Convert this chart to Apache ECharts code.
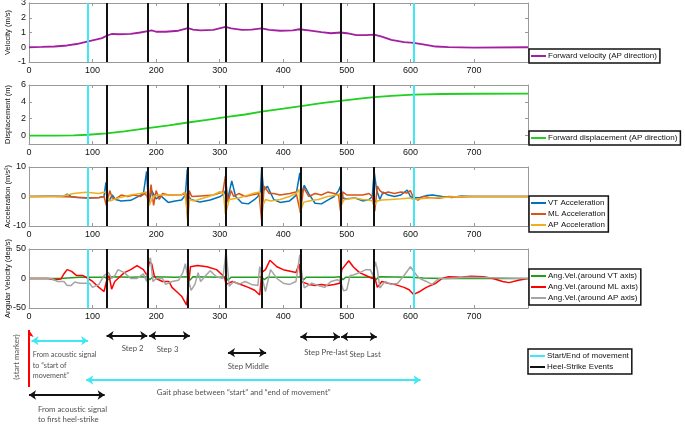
<!DOCTYPE html>
<html>
<head>
<meta charset="utf-8">
<script src="https://cdn.jsdelivr.net/npm/echarts@6/dist/echarts.min.js"></script>
<style>
  html, body { margin: 0; padding: 0; background: #fff; }
  #chart { width: 685px; height: 425px; }
</style>
</head>
<body>
<div id="chart"></div>
<script>
// ---- data (x = sample index) ----
const xMax = 785;
const xTicks = [0, 100, 200, 300, 400, 500, 600, 700];
const heelStrikes = [122, 187, 250, 309, 366, 428, 490, 543];
const moveBounds = [93, 605];

const velocity = [[0,0],[20,0.02],[40,0.05],[60,0.12],[75,0.22],[93,0.4],[105,0.52],[115,0.62],[122,0.78],[130,0.9],[140,0.88],[160,0.9],[175,1.0],[187,1.1],[193,1.15],[200,1.05],[215,1.05],[235,1.12],[250,1.3],[258,1.2],[270,1.15],[290,1.18],[309,1.38],[318,1.28],[335,1.18],[350,1.2],[366,1.28],[378,1.18],[395,1.12],[415,1.15],[425,1.22],[428,1.3],[440,1.15],[460,1.02],[475,0.95],[490,1.0],[500,0.95],[515,0.82],[530,0.82],[543,0.85],[555,0.72],[570,0.5],[590,0.35],[605,0.3],[620,0.2],[640,0.05],[660,0.01],[700,-0.02],[785,0.0]];

const displacement = [[0,0],[40,0],[70,0.03],[93,0.1],[122,0.25],[150,0.5],[187,0.88],[220,1.2],[250,1.55],[280,1.85],[309,2.18],[340,2.5],[366,2.85],[400,3.2],[428,3.5],[460,3.85],[490,4.12],[520,4.38],[543,4.55],[570,4.72],[605,4.85],[650,4.93],[700,4.96],[785,4.97]];

const accVT = [[0,0],[30,0.1],[55,0.1],[60,0.8],[63,1],[66,0],[75,-0.3],[93,-0.5],[110,-0.3],[118,0],[121,4.8],[123,0],[126,-1.5],[131,0.5],[136,-1],[145,-1.5],[160,-1.3],[170,-0.2],[180,1],[185,8.5],[188,-2.5],[193,2],[200,-0.8],[207,0.3],[219,-2],[230,-1.5],[240,-1.2],[246,0.5],[249,9.2],[251,0],[255,-1],[269,-1.9],[285,-1.2],[301,0],[307,1],[309,2],[313,-0.5],[319,5.3],[325,0],[335,-2.2],[345,-2.5],[355,-1],[360,0],[364,1.5],[366,9.5],[369,2],[375,3.5],[385,-1],[395,-2],[410,-1.5],[420,0.4],[426,8],[429,1],[433,3.8],[440,1],[450,-2.3],[460,-2.5],[470,-1.2],[480,0],[487,2],[490,3.5],[494,-0.5],[500,-0.8],[513,-0.5],[525,-1.5],[535,-1],[540,0],[543,8.4],[547,2],[552,-1],[557,1.5],[565,0.5],[575,0],[585,0.5],[595,2.2],[600,0],[605,-0.5],[615,-0.3],[625,0.3],[635,0.5],[650,0],[665,-0.3],[680,0.2],[700,0],[785,0]];

const accML = [[0,0],[40,0],[70,-0.2],[90,-0.4],[110,-0.4],[118,0],[122,-3.2],[125,0],[127,2],[131,-0.5],[135,-1],[145,0.5],[155,0],[165,0.5],[175,0],[182,1],[186,0],[188,-3],[192,4],[196,-3],[200,2],[205,-1],[210,1],[220,0.5],[240,0.6],[247,1],[250,-9.5],[252,2],[256,0],[270,0.2],[290,0.5],[305,1.5],[309,7],[313,-2],[318,2],[322,0],[330,1],[340,0],[350,0.5],[362,1],[366,-8.3],[370,3.5],[378,1],[385,1],[395,0.5],[410,1],[420,1.5],[427,-5.5],[432,3],[440,0],[450,1],[460,0.5],[470,1.5],[480,1],[487,0.5],[490,-5],[494,1.5],[500,0.5],[513,0.5],[525,0.5],[535,1],[540,0],[544,-5],[548,3.5],[552,2],[558,1],[565,1.5],[575,1],[585,1.5],[595,1.2],[600,2],[605,-0.5],[612,-1.2],[620,0],[630,-0.3],[645,-0.6],[660,0],[680,-0.2],[700,0],[785,0]];

const accAP = [[0,0],[50,0],[60,0.5],[70,1],[90,1.4],[110,1],[120,1.5],[121,2],[124,-0.5],[127,-1.5],[140,-0.5],[160,0.5],[175,1],[185,1.5],[187,2],[189,-3],[195,0],[205,0.5],[240,0.6],[245,1.5],[249,-6],[253,-1],[260,-1.5],[275,-0.5],[290,0.5],[300,1.6],[306,1],[309,-6],[315,-1],[330,-0.5],[345,0.5],[355,1.2],[363,1.5],[366,-4],[372,-1],[380,-1.5],[395,-1],[410,0],[420,1],[425,2.4],[427,-5],[432,-2],[440,-1.5],[455,-1],[470,0],[485,0.5],[489,1],[491,-3],[496,-1],[513,-0.5],[525,-1],[535,-1.2],[540,-1.5],[543,-3],[548,-1.5],[555,-1.2],[570,-1],[585,-0.8],[600,-0.5],[605,-1],[615,-0.8],[630,-0.5],[650,-0.3],[680,0],[785,0]];

const gyrVT = [[0,0],[50,0],[60,1],[80,2],[100,2],[120,2],[125,-2],[130,3],[160,2],[186,3],[190,-2],[195,3],[230,2],[249,3],[253,-3],[258,3],[300,2],[309,3],[313,-3],[318,2],[360,2],[366,3],[370,-2],[375,2],[420,2],[428,3],[432,-2],[436,2],[480,2],[490,3],[494,-2],[498,2],[540,2],[543,3],[546,-2],[550,3],[600,2],[620,1],[650,0],[785,0]];

const gyrML = [[0,0],[30,0],[40,-2],[50,-1],[55,8],[60,15],[67,12],[75,5],[85,5],[93,0],[100,-5],[110,-15],[118,-22],[121,-20],[123,0],[126,5],[130,-18],[135,-5],[140,0],[150,10],[160,15],[170,22],[180,15],[186,5],[189,28],[193,25],[197,5],[200,0],[210,-5],[220,-5],[225,-15],[235,-25],[240,-30],[248,-45],[251,-10],[254,20],[265,22],[280,20],[295,15],[305,5],[308,0],[310,-10],[320,-5],[330,-9],[345,-15],[355,-20],[363,-28],[366,10],[372,15],[379,31],[390,20],[400,15],[420,10],[425,25],[428,-5],[440,-10],[450,-12],[460,-10],[470,-12],[480,-10],[489,-8],[492,15],[503,30],[510,20],[520,10],[530,5],[540,0],[543,5],[548,-15],[555,-5],[565,-8],[575,-10],[590,-15],[598,-19],[605,-27],[615,-22],[625,-15],[640,-8],[650,0],[660,3],[680,2],[695,4],[715,3],[730,0],[745,-5],[755,-7],[770,-3],[785,0]];

const gyrAP = [[0,0],[35,0],[45,-5],[55,-5],[60,-12],[66,-12],[72,-6],[80,-8],[95,-8],[100,-15],[110,-10],[118,5],[121,8],[125,10],[130,0],[135,5],[140,15],[150,10],[160,0],[170,0],[180,8],[185,-5],[188,30],[191,35],[195,-5],[200,0],[210,0],[215,-10],[225,-5],[235,-3],[242,10],[246,25],[250,0],[255,-20],[261,-10],[266,10],[270,-5],[278,5],[285,13],[295,3],[305,0],[310,46],[315,-13],[322,-5],[330,-10],[340,-5],[350,-10],[360,-12],[363,20],[366,5],[372,-22],[380,15],[390,0],[400,-8],[410,-10],[420,-5],[426,40],[429,10],[433,-16],[445,-8],[455,-12],[465,-15],[475,-5],[485,-2],[490,-5],[495,-21],[500,-19],[505,5],[510,6],[520,10],[530,15],[537,15],[541,5],[545,28],[548,15],[552,-16],[560,-5],[570,-10],[580,-8],[590,5],[600,20],[610,5],[615,0],[625,-5],[634,-10],[645,0],[660,0],[690,2],[785,0]];

// phase annotations: [start, end]
const stepSpans = {
  step2: [122, 186], step3: [189, 253], middle: [313, 373],
  preLast: [427, 489], last: [491, 547]
};
const toStartSpan = [4, 93];
const toFirstHSSpan = [0, 119];
const gaitSpan = [90, 616];

// ---- styles ----
const CYAN = '#3ee8f5';
const AXC = '#9a9a9a';
const FONT = 'Liberation Sans';
const NOTE_FONT = 'Lato';

const panels = [
  { top: 3,   min: -1,  max: 3,  ticks: [-1, 0, 1, 2, 3], name: 'Velocity (m/s)' },
  { top: 85,  min: -1,  max: 6,  ticks: [0, 2, 4, 6],     name: 'Displacement (m)' },
  { top: 167, min: -10, max: 10, ticks: [-10, 0, 10],     name: 'Acceleration (m/s²)' },
  { top: 249, min: -50, max: 50, ticks: [-50, 0, 50],     name: 'Angular Velocity (deg/s)' }
];

const grid = panels.map(p => ({ left: 29, width: 499, top: p.top, height: 59, outerBoundsMode: 'none', containLabel: false }));
grid.push({ left: 29, width: 499, top: 322, height: 103, outerBoundsMode: 'none', containLabel: false });

const xAxis = [], yAxis = [];
panels.forEach((p, i) => {
  const base = {
    gridIndex: i, type: 'value', min: 0, max: xMax,
    axisLine: { show: true, onZero: false, lineStyle: { color: AXC, width: 1 } },
    axisTick: { show: true, inside: true, length: 3, lineStyle: { color: AXC }, customValues: xTicks },
    splitLine: { show: false }
  };
  xAxis.push(Object.assign({}, base, {
    position: 'bottom',
    axisLabel: { fontSize: 9, margin: 4, color: '#111', fontFamily: FONT, customValues: xTicks }
  }));
  xAxis.push(Object.assign({}, base, { position: 'top', axisLabel: { show: false } }));

  const ybase = {
    gridIndex: i, type: 'value', min: p.min, max: p.max,
    axisLine: { show: true, onZero: false, lineStyle: { color: AXC, width: 1 } },
    axisTick: { show: true, inside: true, length: 3, lineStyle: { color: AXC }, customValues: p.ticks },
    splitLine: { show: false }
  };
  yAxis.push(Object.assign({}, ybase, {
    position: 'left',
    name: p.name, nameLocation: 'middle', nameGap: 17, nameRotate: 90, nameMoveOverlap: false,
    nameTextStyle: { fontSize: 7.5, color: '#111', fontFamily: FONT },
    axisLabel: { fontSize: 9, margin: 3, color: '#111', fontFamily: FONT, customValues: p.ticks }
  }));
  yAxis.push(Object.assign({}, ybase, { position: 'right', axisLabel: { show: false } }));
});
// annotation area
xAxis.push({ gridIndex: 4, type: 'value', min: 0, max: xMax, show: false });
yAxis.push({ gridIndex: 4, type: 'value', min: 0, max: 103, inverse: true, show: false });

const eventLines = {
  silent: true, symbol: 'none', label: { show: false }, animation: false,
  lineStyle: { width: 2, type: 'solid' },
  data: heelStrikes.map(x => ({ xAxis: x, lineStyle: { color: '#111', width: 2, type: 'solid' } }))
    .concat(moveBounds.map(x => ({ xAxis: x, lineStyle: { color: CYAN, width: 2, type: 'solid' } })))
};

function line(name, data, color, panel, width) {
  return {
    name, type: 'line', data, xAxisIndex: panel * 2, yAxisIndex: panel * 2,
    symbol: 'none', smooth: false, animation: false,
    lineStyle: { color, width: width || 1.5 }, itemStyle: { color }
  };
}

const series = [
  line('Forward velocity (AP direction)', velocity, '#a21fa0', 0, 1.8),
  line('Forward displacement (AP direction)', displacement, '#1fd01f', 1, 1.8),
  line('VT Acceleration', accVT, '#0072bd', 2),
  line('ML Acceleration', accML, '#d95319', 2),
  line('AP Acceleration', accAP, '#edb120', 2),
  line('Ang.Vel.(around VT axis)', gyrVT, '#1ea01e', 3),
  line('Ang.Vel.(around ML axis)', gyrML, '#ff0000', 3),
  line('Ang.Vel.(around AP axis)', gyrAP, '#a5a5a5', 3)
];
[0, 1, 2, 5].forEach(k => { series[k].markLine = eventLines; });

// legend-only entries for the event lines
series.push({ name: 'Start/End of movement', type: 'line', data: [], xAxisIndex: 8, yAxisIndex: 8, symbol: 'none', lineStyle: { color: CYAN, width: 1.5 }, itemStyle: { color: CYAN } });
series.push({ name: 'Heel-Strike Events', type: 'line', data: [], xAxisIndex: 8, yAxisIndex: 8, symbol: 'none', lineStyle: { color: '#111', width: 1.5 }, itemStyle: { color: '#111' } });

// arrows
function arrow(span, row, color) {
  return { coords: [[span[0], row], [span[1], row]], lineStyle: { color } };
}
series.push({
  type: 'lines', coordinateSystem: 'cartesian2d', xAxisIndex: 8, yAxisIndex: 8,
  symbol: ['arrow', 'arrow'], symbolSize: 7, silent: true, animation: false,
  lineStyle: { width: 2, opacity: 1 },
  data: [
    arrow(stepSpans.step2, 13.7, '#111'),
    arrow(stepSpans.step3, 13.7, '#111'),
    arrow(stepSpans.middle, 30.7, '#111'),
    arrow(stepSpans.preLast, 14.7, '#111'),
    arrow(stepSpans.last, 14.7, '#111'),
    arrow(toStartSpan, 18.7, CYAN),
    arrow(toFirstHSSpan, 73, '#111'),
    arrow(gaitSpan, 58, CYAN)
  ]
});
series.push({
  type: 'lines', coordinateSystem: 'cartesian2d', xAxisIndex: 8, yAxisIndex: 8,
  symbol: ['none', 'arrow'], symbolSize: 7, silent: true, animation: false,
  lineStyle: { width: 2, opacity: 1 },
  data: [{ coords: [[0, 65], [0, 8]], lineStyle: { color: '#ff0000' } }]
});

// annotation texts
function note(x, y, text, align, rotate, size) {
  const label = { show: true, formatter: text, align: align || 'left', verticalAlign: 'middle', rotate: rotate || 0 };
  if (size) label.fontSize = size;
  return { value: [x, y], label };
}
series.push({
  type: 'scatter', xAxisIndex: 8, yAxisIndex: 8, symbolSize: 0, silent: true, clip: false, animation: false,
  label: { show: true, position: 'inside', fontSize: 7.8, lineHeight: 10.5, color: '#222', fontFamily: NOTE_FONT },
  data: [
    note(163, 26.3, 'Step 2', 'center'),
    note(218, 27, 'Step 3', 'center'),
    note(345, 44.7, 'Step Middle', 'center'),
    note(433, 30.3, 'Step Pre-last'),
    note(504, 32.7, 'Step Last'),
    note(6, 43.3, 'From acoustic signal\nto “start of\nmovement”', 'left', 0, 7.2),
    note(14, 92.3, 'From acoustic signal\nto first heel-strike'),
    note(201, 70.7, 'Gait phase between “start” and “end of movement”'),
    note(-19, 35, '(start marker)', 'center', 90)
  ]
});

function legend(names, top, left) {
  return {
    data: names.map(n => ({ name: n, icon: 'rect' })),
    orient: 'vertical', left: left || 529, top,
    itemWidth: 15, itemHeight: 2, itemGap: 1, padding: [2, 3, 2, 2],
    borderColor: '#111', borderWidth: 1.5, selectedMode: false,
    textStyle: { fontSize: 8, lineHeight: 10, color: '#111', fontFamily: FONT, padding: [0, 0, 0, -3] }
  };
}

const option = {
  backgroundColor: '#fff',
  animation: false,
  grid, xAxis, yAxis, series,
  legend: [
    legend(['Forward velocity (AP direction)'], 49),
    legend(['Forward displacement (AP direction)'], 131),
    legend(['VT Acceleration', 'ML Acceleration', 'AP Acceleration'], 196),
    legend(['Ang.Vel.(around VT axis)', 'Ang.Vel.(around ML axis)', 'Ang.Vel.(around AP axis)'], 269),
    legend(['Start/End of movement', 'Heel-Strike Events'], 349, 528)
  ]
};

const myChart = echarts.init(document.getElementById('chart'), null, { renderer: 'canvas' });
myChart.setOption(option);
</script>
</body>
</html>
